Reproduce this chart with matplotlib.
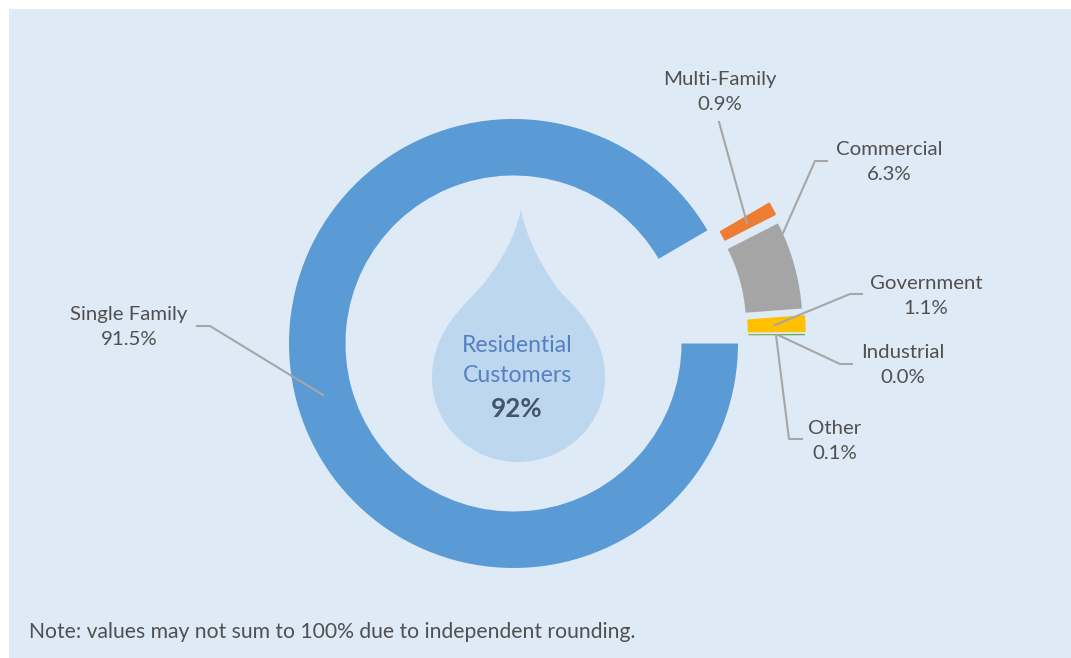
import numpy as np
import matplotlib
matplotlib.use('Agg')
import matplotlib.pyplot as plt
from matplotlib.patches import PathPatch, Rectangle
from matplotlib.path import Path

W, H = 1071, 658

categories = ['Single Family', 'Multi-Family', 'Commercial', 'Government', 'Industrial', 'Other']
shares = [91.5, 0.9, 6.3, 1.1, 0.0, 0.1]
colors = ['#5B9BD5', '#ED7D31', '#A5A5A5', '#FFC000', '#4472C4', '#70AD47']
center_title = ['Residential', 'Customers']
center_value = '92%'
note = 'Note: values may not sum to 100% due to independent rounding.'

plt.rcParams['font.family'] = ['Lato', 'DejaVu Sans']

# axes in pixel units, y is flipped by hand so the pie still runs the right way
def py(y):
    return H - y

fig = plt.figure(figsize=(W / 100, H / 100), dpi=100, facecolor='white')
ax = fig.add_axes([0, 0, 1, 1])

ax.add_patch(Rectangle((9, 0), W - 9, H - 9, color='#DEEAF6', lw=0, zorder=0))

# donut, everything but the big slice is pulled out
explode = [0, 67, 67, 67, 67, 67]
wedges, _ = ax.pie(shares, colors=colors, startangle=0, counterclock=False, explode=explode,
                   radius=224.5, center=(513.5, py(343.5)), normalize=True,
                   wedgeprops={'width': 56.5, 'linewidth': 0})

# small slices sit a bit off the radial direction in the original
nudges = [(0, 0), (3, -5), (0, 0), (0, 8), (0, 8), (0, 8)]
for w, (dx, dy) in zip(wedges, nudges):
    w.set_center((w.center[0] + dx, w.center[1] + dy))
wedges[1].set_edgecolor(colors[1])
wedges[1].set_linewidth(1)
wedges[3].set_edgecolor(colors[3])
wedges[3].set_linewidth(1)

ax.set_xlim(0, W)
ax.set_ylim(0, H)
ax.set_aspect('equal')
ax.axis('off')

# water drop
verts = [(521, 210), (528, 245), (545, 270), (557, 288),
         (570, 303), (605, 330), (605, 378),
         (605, 425), (565, 462), (518, 462),
         (471, 462), (432, 425), (432, 378),
         (432, 330), (467, 303), (480, 288),
         (495, 270), (513, 245), (521, 210)]
codes = [Path.MOVETO] + [Path.CURVE4] * 18
ax.add_patch(PathPatch(Path([(x, py(y)) for x, y in verts], codes), fc='#BDD7EE', lw=0, zorder=3))

ax.text(517, py(345), center_title[0], color='#5580C4', fontsize=16.6, ha='center', va='center', zorder=4)
ax.text(517, py(375), center_title[1], color='#5580C4', fontsize=16.6, ha='center', va='center', zorder=4)
ax.text(517, py(409), center_value, color='#44546A', fontsize=18.7, fontweight='bold', ha='center', va='center', zorder=4)

# leader lines
leaders = [
    [(197, 326), (210, 326), (323, 395)],
    [(719, 122), (747, 223)],
    [(827, 161), (815, 161), (783, 233)],
    [(862, 294), (850, 294), (775, 325)],
    [(852, 364), (840, 364), (778, 335)],
    [(802, 439), (789, 439), (776, 335)],
]
for pts in leaders:
    ax.plot([p[0] for p in pts], [py(p[1]) for p in pts], color='#A6A6A6', lw=1.5, zorder=5)

# data labels
label_pos = [(129, 327), (720, 92), (889, 162), (926, 296), (903, 365), (835, 441)]
for name, val, (x, y) in zip(categories, shares, label_pos):
    ax.text(x, py(y), f'{name}\n{val:.1f}%', color='#505050', fontsize=14.7, ha='center', va='center',
            linespacing=1.62, zorder=6)

ax.text(29, py(632), note, color='#505050', fontsize=15.2, ha='left', va='center')

fig.savefig('out.png', dpi=100)
